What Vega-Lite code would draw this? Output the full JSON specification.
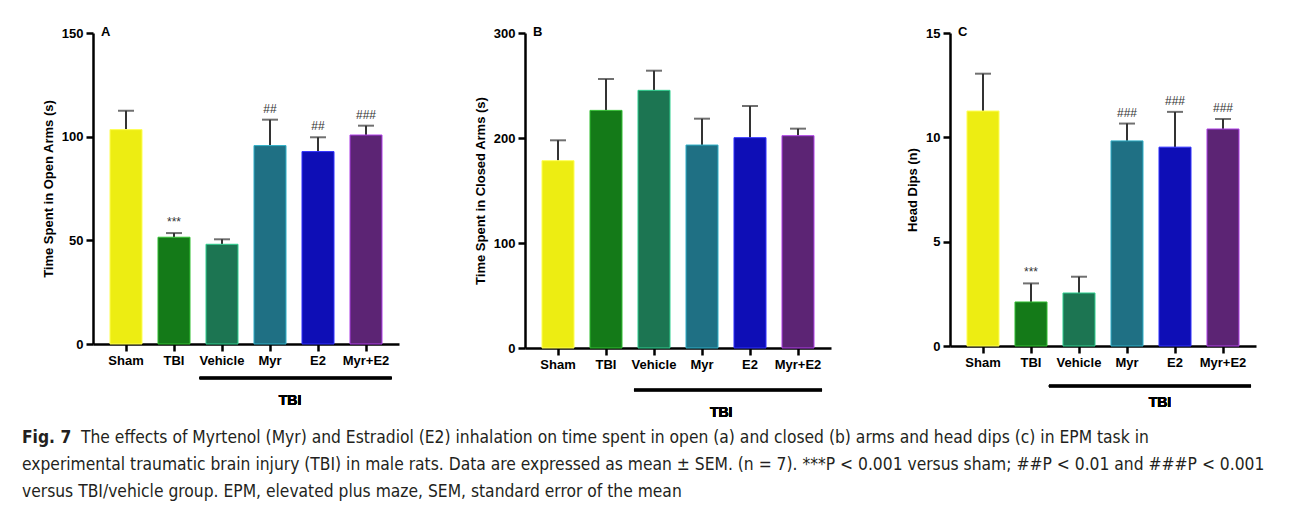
{
  "$schema": "https://vega.github.io/schema/vega-lite/v6.json",
  "padding": {"left": 22, "top": 26, "right": 5, "bottom": 5},
  "background": "white",
  "datasets": {
    "open": [
      {"group": "Sham", "mean": 103.4, "upper": 112.5, "sig": ""},
      {"group": "TBI", "mean": 51.5, "upper": 53.5, "sig": "***"},
      {"group": "Vehicle", "mean": 48.1, "upper": 50.5, "sig": ""},
      {"group": "Myr", "mean": 95.7, "upper": 108.2, "sig": "##"},
      {"group": "E2", "mean": 92.8, "upper": 99.7, "sig": "##"},
      {"group": "Myr+E2", "mean": 100.8, "upper": 105.3, "sig": "###"}
    ],
    "closed": [
      {"group": "Sham", "mean": 178.4, "upper": 197.8, "sig": ""},
      {"group": "TBI", "mean": 226.3, "upper": 256.2, "sig": ""},
      {"group": "Vehicle", "mean": 245.4, "upper": 264.1, "sig": ""},
      {"group": "Myr", "mean": 193.3, "upper": 218.4, "sig": ""},
      {"group": "E2", "mean": 200.3, "upper": 230.5, "sig": ""},
      {"group": "Myr+E2", "mean": 202.2, "upper": 208.9, "sig": ""}
    ],
    "dips": [
      {"group": "Sham", "mean": 11.26, "upper": 13.05, "sig": ""},
      {"group": "TBI", "mean": 2.11, "upper": 3.0, "sig": "***"},
      {"group": "Vehicle", "mean": 2.54, "upper": 3.32, "sig": ""},
      {"group": "Myr", "mean": 9.83, "upper": 10.66, "sig": "###"},
      {"group": "E2", "mean": 9.53, "upper": 11.22, "sig": "###"},
      {"group": "Myr+E2", "mean": 10.4, "upper": 10.88, "sig": "###"}
    ],
    "caption": [
      {"line": 1, "part": "bold", "text": "Fig. 7"},
      {"line": 1, "part": "plain", "text": "The effects of Myrtenol (Myr) and Estradiol (E2) inhalation on time spent in open (a) and closed (b) arms and head dips (c) in EPM task in"},
      {"line": 2, "part": "plain0", "text": "experimental traumatic brain injury (TBI) in male rats. Data are expressed as mean ± SEM. (n = 7). ***P < 0.001 versus sham; ##P < 0.01 and ###P < 0.001"},
      {"line": 3, "part": "plain0", "text": "versus TBI/vehicle group. EPM, elevated plus maze, SEM, standard error of the mean"}
    ]
  },
  "config": {
    "font": "Liberation Sans",
    "view": {"stroke": null},
    "axis": {
      "domainColor": "black", "domainWidth": 2.5, "tickColor": "black", "tickWidth": 2.5, "tickSize": 7,
      "labelFont": "Liberation Sans", "labelFontWeight": "bold", "labelFontSize": 13, "labelColor": "black", "labelPadding": 3,
      "titleFont": "Liberation Sans", "titleFontWeight": "bold", "titleFontSize": 13, "titleColor": "black", "titlePadding": 6,
      "grid": false
    },
    "title": {"anchor": "start", "frame": "group", "dx": 8, "offset": -12, "baseline": "bottom", "fontSize": 13, "fontWeight": "bold", "font": "Liberation Sans", "color": "black"}
  },
  "vconcat": [
    {
      "hconcat": [
        {
          "width": 306, "height": 311,
          "title": "A",
          "data": {"name": "open"},
          "encoding": {
            "x": {"field": "group", "type": "nominal", "sort": null, "scale": {"paddingInner": 0.333, "paddingOuter": 0.354}, "axis": {"title": null, "labelAngle": 0}}
          },
          "layer": [
            {"mark": {"type": "rule", "color": "#333333", "strokeWidth": 2},
             "encoding": {"y": {"field": "mean", "type": "quantitative", "scale": {"domain": [0, 150], "nice": false}, "axis": {"values": [0, 50, 100, 150], "title": "Time Spent in Open Arms (s)"}}, "y2": {"field": "upper"}}},
            {"mark": {"type": "bar", "strokeWidth": 1},
             "encoding": {"y": {"field": "mean", "type": "quantitative"},
               "fill": {"field": "group", "type": "nominal", "legend": null, "scale": {"domain": ["Sham", "TBI", "Vehicle", "Myr", "E2", "Myr+E2"], "range": ["#eded12", "#147a18", "#1c7552", "#1f7084", "#0e0eb6", "#5c2474"]}},
               "stroke": {"field": "group", "type": "nominal", "legend": null, "scale": {"domain": ["Sham", "TBI", "Vehicle", "Myr", "E2", "Myr+E2"], "range": ["#ffff55", "#33c033", "#30d090", "#30b0c8", "#3030ff", "#b040e8"]}}}},
            {"mark": {"type": "tick", "color": "#333333", "thickness": 2, "size": 16},
             "encoding": {"y": {"field": "upper", "type": "quantitative"}}},
            {"mark": {"type": "text", "baseline": "bottom", "dy": -4, "fontSize": 12, "color": "#333333", "font": "Liberation Sans"},
             "encoding": {"y": {"field": "upper", "type": "quantitative"}, "text": {"field": "sig"}}},
            {"mark": {"type": "rule", "color": "black", "strokeWidth": 2.5},
             "encoding": {"x": {"datum": "Vehicle", "bandPosition": -0.2}, "x2": {"datum": "Myr+E2", "bandPosition": 1.3}, "y": {"datum": -16.4}}},
            {"mark": {"type": "text", "fontSize": 14, "fontWeight": "bold", "color": "black", "font": "Liberation Sans"},
             "encoding": {"x": {"datum": "Myr", "bandPosition": 1.125}, "y": {"datum": -27.5}, "text": {"value": "TBI"}}}
          ]
        },
        {
          "width": 306, "height": 315,
          "title": "B",
          "data": {"name": "closed"},
          "encoding": {
            "x": {"field": "group", "type": "nominal", "sort": null, "scale": {"paddingInner": 0.333, "paddingOuter": 0.354}, "axis": {"title": null, "labelAngle": 0}}
          },
          "layer": [
            {"mark": {"type": "rule", "color": "#333333", "strokeWidth": 2},
             "encoding": {"y": {"field": "mean", "type": "quantitative", "scale": {"domain": [0, 300], "nice": false}, "axis": {"values": [0, 100, 200, 300], "title": "Time Spent in Closed Arms (s)"}}, "y2": {"field": "upper"}}},
            {"mark": {"type": "bar", "strokeWidth": 1},
             "encoding": {"y": {"field": "mean", "type": "quantitative"},
               "fill": {"field": "group", "type": "nominal", "legend": null, "scale": {"domain": ["Sham", "TBI", "Vehicle", "Myr", "E2", "Myr+E2"], "range": ["#eded12", "#147a18", "#1c7552", "#1f7084", "#0e0eb6", "#5c2474"]}},
               "stroke": {"field": "group", "type": "nominal", "legend": null, "scale": {"domain": ["Sham", "TBI", "Vehicle", "Myr", "E2", "Myr+E2"], "range": ["#ffff55", "#33c033", "#30d090", "#30b0c8", "#3030ff", "#b040e8"]}}}},
            {"mark": {"type": "tick", "color": "#333333", "thickness": 2, "size": 16},
             "encoding": {"y": {"field": "upper", "type": "quantitative"}}},
            {"mark": {"type": "rule", "color": "black", "strokeWidth": 2.5},
             "encoding": {"x": {"datum": "Vehicle", "bandPosition": -0.125}, "x2": {"datum": "Myr+E2", "bandPosition": 1.25}, "y": {"datum": -40}}},
            {"mark": {"type": "text", "fontSize": 14, "fontWeight": "bold", "color": "black", "font": "Liberation Sans"},
             "encoding": {"x": {"datum": "Myr", "bandPosition": 1.1}, "y": {"datum": -61.9}, "text": {"value": "TBI"}}}
          ]
        },
        {
          "width": 306, "height": 313,
          "title": "C",
          "data": {"name": "dips"},
          "encoding": {
            "x": {"field": "group", "type": "nominal", "sort": null, "scale": {"paddingInner": 0.333, "paddingOuter": 0.354}, "axis": {"title": null, "labelAngle": 0}}
          },
          "layer": [
            {"mark": {"type": "rule", "color": "#333333", "strokeWidth": 2},
             "encoding": {"y": {"field": "mean", "type": "quantitative", "scale": {"domain": [0, 15], "nice": false}, "axis": {"values": [0, 5, 10, 15], "title": "Head Dips (n)"}}, "y2": {"field": "upper"}}},
            {"mark": {"type": "bar", "strokeWidth": 1},
             "encoding": {"y": {"field": "mean", "type": "quantitative"},
               "fill": {"field": "group", "type": "nominal", "legend": null, "scale": {"domain": ["Sham", "TBI", "Vehicle", "Myr", "E2", "Myr+E2"], "range": ["#eded12", "#147a18", "#1c7552", "#1f7084", "#0e0eb6", "#5c2474"]}},
               "stroke": {"field": "group", "type": "nominal", "legend": null, "scale": {"domain": ["Sham", "TBI", "Vehicle", "Myr", "E2", "Myr+E2"], "range": ["#ffff55", "#33c033", "#30d090", "#30b0c8", "#3030ff", "#b040e8"]}}}},
            {"mark": {"type": "tick", "color": "#333333", "thickness": 2, "size": 16},
             "encoding": {"y": {"field": "upper", "type": "quantitative"}}},
            {"mark": {"type": "text", "baseline": "bottom", "dy": -4, "fontSize": 12, "color": "#333333", "font": "Liberation Sans"},
             "encoding": {"y": {"field": "upper", "type": "quantitative"}, "text": {"field": "sig"}}},
            {"mark": {"type": "rule", "color": "black", "strokeWidth": 2.5},
             "encoding": {"x": {"datum": "Vehicle", "bandPosition": -0.44}, "x2": {"datum": "Myr+E2", "bandPosition": 1.375}, "y": {"datum": -1.915}}},
            {"mark": {"type": "text", "fontSize": 14, "fontWeight": "bold", "color": "black", "font": "Liberation Sans"},
             "encoding": {"x": {"datum": "Myr", "bandPosition": 1.53}, "y": {"datum": -2.73}, "text": {"value": "TBI"}}}
          ]
        }
      ],
      "spacing": 75
    },
    {
      "width": 1150, "height": 80,
      "data": {"name": "caption"},
      "encoding": {
        "y": {"field": "line", "type": "ordinal", "axis": null},
        "x": {"datum": 0, "type": "quantitative", "scale": {"domain": [0, 1]}, "axis": null},
        "text": {"field": "text"}
      },
      "layer": [
        {"transform": [{"filter": "datum.part == 'bold'"}],
         "mark": {"type": "text", "align": "left", "dx": -71, "font": "DejaVu Sans Condensed", "fontWeight": "bold", "fontSize": 17.3, "color": "#231f20"}},
        {"transform": [{"filter": "datum.part == 'plain'"}],
         "mark": {"type": "text", "align": "left", "dx": -12, "font": "DejaVu Sans Condensed", "fontSize": 17.3, "color": "#231f20"}},
        {"transform": [{"filter": "datum.part == 'plain0'"}],
         "mark": {"type": "text", "align": "left", "dx": -71, "font": "DejaVu Sans Condensed", "fontSize": 17.3, "color": "#231f20"}}
      ]
    }
  ],
  "spacing": 5
}
